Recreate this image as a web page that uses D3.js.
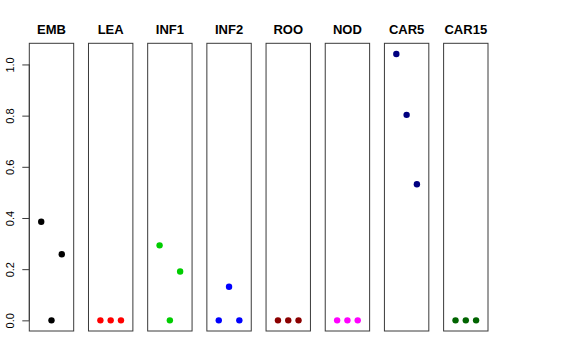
<!DOCTYPE html>
<html>
<head>
<meta charset="utf-8">
<script src="https://cdn.jsdelivr.net/npm/d3@7"></script>
<style>
  body { margin: 0; background: #fff; }
  svg { display: block; font-family: "Liberation Sans", Arial, Helvetica, sans-serif; }
</style>
</head>
<body>
<div id="chart"></div>
<script>
// panel names and their colours
var panels = ["EMB", "LEA", "INF1", "INF2", "ROO", "NOD", "CAR5", "CAR15"];
var colors = ["#000000", "#FF0000", "#00CD00", "#0000FF", "#8B0000", "#FF00FF", "#000080", "#006400"];

// three values per panel
var values = [
  [0.385, 0.0, 0.258],
  [0.0, 0.0, 0.0],
  [0.293, 0.0, 0.191],
  [0.0, 0.131, 0.0],
  [0.0, 0.0, 0.0],
  [0.0, 0.0, 0.0],
  [1.041, 0.803, 0.532],
  [0.0, 0.0, 0.0]
];
var yTicks = [0.0, 0.2, 0.4, 0.6, 0.8, 1.0];

var width = 576, height = 360;
var plotTop = 43.3, plotBottom = 331;

var svg = d3.select("#chart")
  .append("svg")
  .attr("width", width)
  .attr("height", height);

// panel positions
var panelScale = d3.scaleBand()
  .domain(panels)
  .range([29.3, 488])
  .paddingInner(0.25)
  .paddingOuter(0);

// y range like R: data range extended by 4%
var yMax = d3.max(values, function (v) { return d3.max(v); });
var pad = yMax * 0.04;
var y = d3.scaleLinear()
  .domain([-pad, yMax + pad])
  .range([plotBottom, plotTop]);

panels.forEach(function (name, i) {
  var left = panelScale(name);
  var w = panelScale.bandwidth();
  var x = d3.scaleLinear().domain([-0.16, 4.16]).range([left, left + w]);

  var g = svg.append("g");

  g.append("rect")
    .attr("x", left)
    .attr("y", plotTop)
    .attr("width", w)
    .attr("height", plotBottom - plotTop)
    .attr("fill", "none")
    .attr("stroke", "#3a3a3a")
    .attr("stroke-width", 1);

  g.append("text")
    .attr("x", left + w / 2)
    .attr("y", 34)
    .attr("text-anchor", "middle")
    .attr("font-size", "13px")
    .attr("font-weight", "bold")
    .attr("fill", "#000")
    .text(name);

  g.selectAll("circle")
    .data(values[i])
    .enter()
    .append("circle")
    .attr("cx", function (d, j) { return x(j + 1); })
    .attr("cy", function (d) { return y(d); })
    .attr("r", 3.2)
    .attr("fill", colors[i]);
});

// y axis on the first panel
var axisX = panelScale(panels[0]);
var axis = svg.append("g")
  .attr("transform", "translate(" + axisX + ",0)")
  .call(d3.axisLeft(y).tickValues(yTicks).tickSize(7).tickPadding(0).tickFormat(d3.format(".1f")));

axis.select(".domain")
  .attr("d", "M0," + y(yTicks[0]) + "V" + y(yTicks[yTicks.length - 1]))
  .attr("stroke", "#3a3a3a");
axis.selectAll(".tick line").attr("stroke", "#3a3a3a");
axis.selectAll(".tick text")
  .attr("font-size", "11px")
  .attr("font-family", "Liberation Sans, Arial, sans-serif")
  .attr("fill", "#000")
  .attr("transform", "rotate(-90)")
  .attr("x", 0)
  .attr("y", -15)
  .attr("dy", 0)
  .attr("text-anchor", "middle");
</script>
</body>
</html>
